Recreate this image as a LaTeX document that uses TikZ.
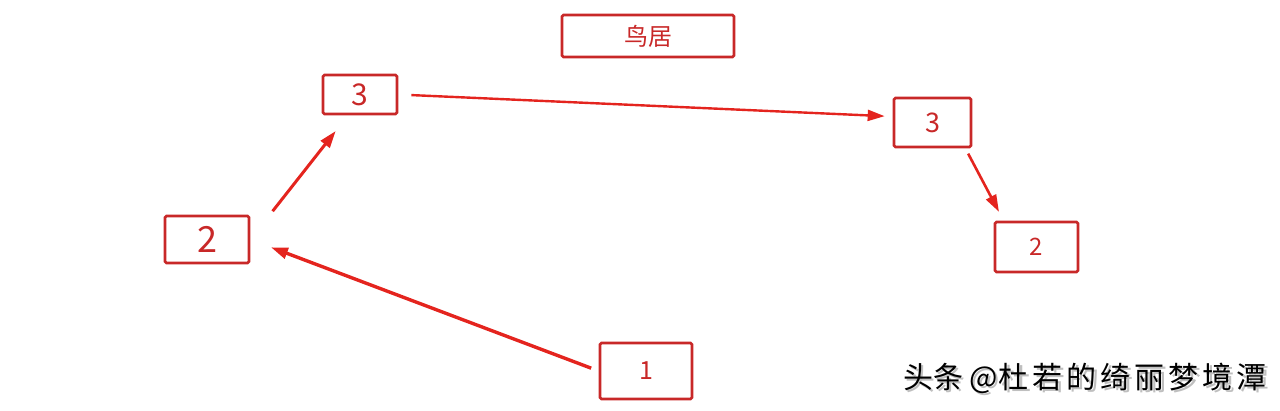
\documentclass[tikz,border=0pt]{standalone}
\usepackage{fontspec}
\setmainfont{Noto Sans CJK SC}
\usetikzlibrary{arrows.meta,calc}
\definecolor{boxred}{RGB}{200,40,40}
\definecolor{arrred}{RGB}{228,36,30}
\newcommand{\wmtext}{头条\hspace{6pt}@\hspace{1pt}杜\hspace{4pt}若\hspace{4pt}的\hspace{4pt}绮\hspace{4pt}丽\hspace{4pt}梦\hspace{4pt}境\hspace{4pt}潭}
\begin{document}
\begin{tikzpicture}[x=1pt,y=-1pt,
  rbox/.style={draw=boxred,line width=2.7pt,rounded corners=1.5pt,text=boxred,inner sep=0pt,anchor=center},
  conn/.style={draw=arrred,line width=2.2pt,-{Triangle[length=17pt,width=11pt]}}]
\useasboundingbox (0,0) rectangle (1280,410);
\node[rbox,minimum width=172pt,minimum height=42pt,font=\fontsize{24}{24}\selectfont] (T) at (648,36) {鸟居};
\node[rbox,minimum width=74pt,minimum height=39pt,font=\fontsize{30}{30}\selectfont] (A3) at (360,94.5) {3};
\node[rbox,minimum width=84pt,minimum height=47pt,font=\fontsize{36}{36}\selectfont] (A2) at (207,239.5) {2};
\node[rbox,minimum width=77pt,minimum height=49pt,font=\fontsize{27}{27}\selectfont] (B3) at (932.5,122.5) {3};
\node[rbox,minimum width=83pt,minimum height=50pt,font=\fontsize{24}{24}\selectfont] (B2) at (1036.5,247) {2};
\node[rbox,minimum width=92pt,minimum height=56pt,font=\fontsize{25}{25}\selectfont] (N1) at (646,371) {1};
\coordinate (a3in) at ($(A3.south)+(-12,0)$);
\coordinate (b3in) at ($(B3.west)+(0,-6)$);
\coordinate (b3out) at ($(B3.south east)+(-7,0)$);
\coordinate (b2in) at ($(B2.north west)+(10,0)$);
\draw[conn,line width=3.4pt,shorten <=8pt,shorten >=22pt] (N1.west) -- (A2.east);
\draw[conn,line width=3pt,shorten <=36pt,shorten >=20pt] (A2.east) -- (a3in);
\draw[conn,line width=2.4pt,shorten <=13pt,shorten >=8pt] (A3.east) -- (b3in);
\draw[conn,line width=2.6pt,shorten <=6pt,shorten >=10pt] (b3out) -- (b2in);
\node[anchor=west,text=black!25,font=\fontsize{30}{30}\selectfont,inner sep=0pt] (WMs) at (905.5,380.5) {\wmtext};
\node[anchor=west,text=black,font=\fontsize{30}{30}\selectfont,inner sep=0pt] (WM) at (903,378) {\wmtext};
\end{tikzpicture}
\end{document}
